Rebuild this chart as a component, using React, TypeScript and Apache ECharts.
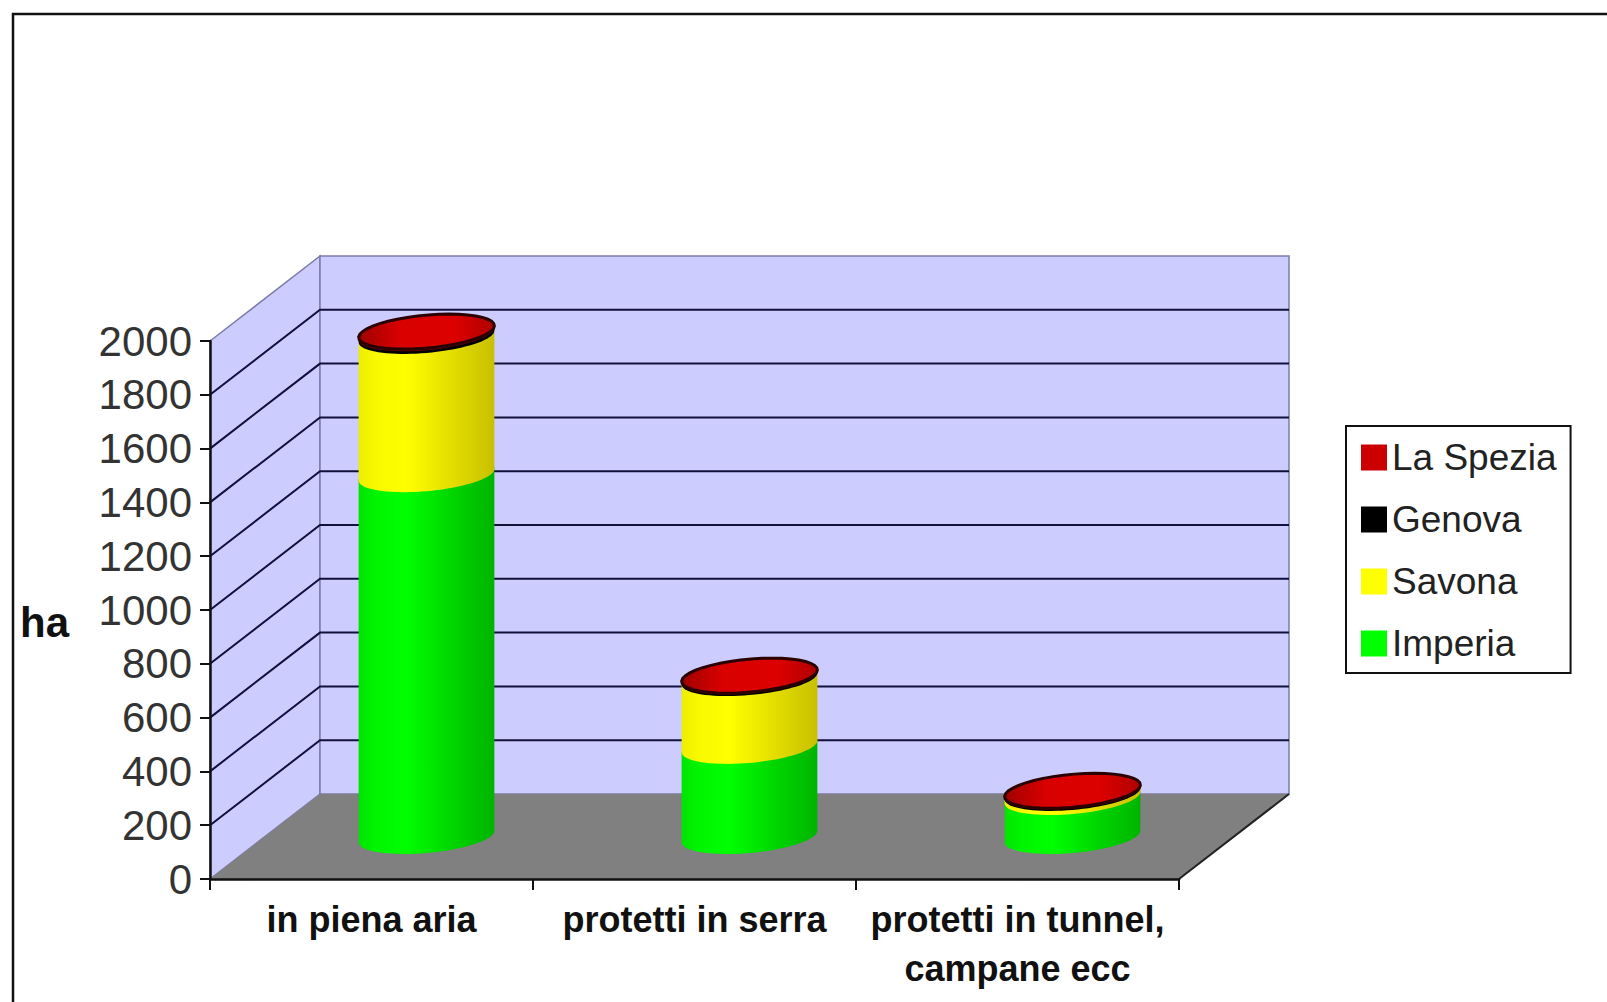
import React, { useEffect, useRef } from "react";
import * as echarts from "echarts";

const categories = ["in piena aria", "protetti in serra", "protetti in tunnel,\ncampane ecc"];
const imperia = [1345, 335, 145];
const savona = [514, 252, 15];
const genova = [10, 6, 5];
const laSpezia = [8, 5, 5];
const yTicks = [200, 400, 600, 800, 1000, 1200, 1400, 1600, 1800];
const legendOrder = ["La Spezia", "Genova", "Savona", "Imperia"];

const DEPTH_X = 110;
const DEPTH_Y = -85;
const RX = 64;
const SKEW = 22.6;
const RY = 17.5;
const FONT = "'Liberation Sans', Arial, sans-serif";

const gradient = (stops: [number, string][]) =>
  new echarts.graphic.LinearGradient(0, 0, 1, 0, stops.map(([offset, color]) => ({ offset, color })));

const shades: Record<string, [number, string][]> = {
  Imperia: [[0, "#00e400"], [0.12, "#00f400"], [0.35, "#00ff00"], [0.7, "#00d400"], [1, "#00b400"]],
  Savona: [[0, "#eeee00"], [0.12, "#f8f800"], [0.35, "#ffff00"], [0.7, "#e2dc00"], [1, "#c8c000"]],
  Genova: [[0, "#000000"], [1, "#000000"]],
  "La Spezia": [[0, "#700000"], [1, "#500000"]],
};

const ellipsePoint = (cx: number, cy: number, t: number): number[] => [
  cx + RX * Math.cos(t) + SKEW * Math.sin(t),
  cy - RY * Math.sin(t),
];

const leftT = Math.PI + Math.atan2(SKEW, RX);
const rightT = Math.atan2(SKEW, RX);

function arc(cx: number, cy: number, from: number, to: number): number[][] {
  const pts: number[][] = [];
  const n = 40;
  for (let i = 0; i <= n; i++) pts.push(ellipsePoint(cx, cy, from + ((to - from) * i) / n));
  return pts;
}

function makeCylinderItem(name: string, isTop: boolean) {
  return (_params: any, api: any) => {
    const bottom = api.coord([api.value(0), api.value(1)]);
    const top = api.coord([api.value(0), api.value(2)]);
    const cx = bottom[0] + DEPTH_X / 2;
    const by = bottom[1] + DEPTH_Y / 2;
    const ty = top[1] + DEPTH_Y / 2;
    const front = arc(cx, by, leftT, rightT + Math.PI * 2);
    const back = arc(cx, ty, rightT, leftT);
    const children: any[] = [
      {
        type: "polygon",
        shape: { points: [...front, ...back] },
        style: { fill: gradient(shades[name]) },
      },
    ];
    if (isTop) {
      children.push({
        type: "polygon",
        shape: { points: arc(cx, ty, 0, Math.PI * 2) },
        style: {
          fill: gradient([[0, "#a00000"], [0.3, "#d80000"], [0.7, "#dd0000"], [1, "#b00000"]]),
          stroke: "#2a0000",
          lineWidth: 3,
        },
      });
    }
    return { type: "group", children };
  };
}

function makeSeries(name: string, color: string, base: number[], values: number[], isTop: boolean) {
  return {
    type: "custom",
    name,
    z: 3,
    itemStyle: { color },
    renderItem: makeCylinderItem(name, isTop),
    data: values.map((v, i) => [i, base[i], base[i] + v]),
  };
}

const renderWalls = (params: any, api: any) => {
  const cs = params.coordSys;
  const y0 = api.coord([0, 0])[1];
  const yTop = api.coord([0, 2000])[1];
  const xL = cs.x;
  const xR = cs.x + cs.width;
  const shift = (p: number[]) => [p[0] + DEPTH_X, p[1] + DEPTH_Y];
  const wallFill = "#ccccff";
  const edge = "#7c7ca8";
  const children: any[] = [
    {
      type: "polygon",
      shape: { points: [[xL, y0], shift([xL, y0]), shift([xL, yTop]), [xL, yTop]] },
      style: { fill: wallFill, stroke: edge, lineWidth: 1.5 },
    },
    {
      type: "polygon",
      shape: { points: [shift([xL, y0]), shift([xR, y0]), shift([xR, yTop]), shift([xL, yTop])] },
      style: { fill: wallFill, stroke: edge, lineWidth: 1.5 },
    },
  ];
  yTicks.forEach((t) => {
    const y = api.coord([0, t])[1];
    children.push({
      type: "polyline",
      shape: { points: [[xL, y], shift([xL, y]), shift([xR, y])] },
      style: { fill: "none", stroke: "#10103a", lineWidth: 2 },
    });
  });
  children.push({
    type: "polygon",
    shape: { points: [[xL, y0], shift([xL, y0]), shift([xR, y0]), [xR, y0]] },
    style: { fill: "#808080" },
  });
  children.push({
    type: "line",
    shape: { x1: xR, y1: y0, x2: xR + DEPTH_X, y2: y0 + DEPTH_Y },
    style: { stroke: "#222222", lineWidth: 2 },
  });
  return { type: "group", children };
};

export default function App() {
  const ref = useRef<HTMLDivElement>(null);
  useEffect(() => {
    if (!ref.current) return;
    const chart = echarts.init(ref.current, undefined, { renderer: "svg" });
    const zeros = categories.map(() => 0);
    const s1 = imperia;
    const s2 = imperia.map((v, i) => v + savona[i]);
    const s3 = s2.map((v, i) => v + genova[i]);
    chart.setOption({
      animation: false,
      backgroundColor: "#ffffff",
      textStyle: { fontFamily: FONT },
      grid: { left: 210, top: 341, width: 969, height: 538, outerBoundsMode: "none" },
      legend: {
        orient: "vertical",
        left: 1346,
        top: 426,
        padding: [13, 14, 11, 15],
        itemWidth: 26,
        itemHeight: 26,
        itemGap: 25,
        icon: "rect",
        borderColor: "#111111",
        borderWidth: 2,
        backgroundColor: "#ffffff",
        data: legendOrder,
        textStyle: { fontFamily: FONT, fontSize: 37, color: "#222222" },
      },
      graphic: [
        {
          type: "polyline",
          shape: { points: [[13, 1002], [13, 14], [1607, 14]] },
          style: { fill: "none", stroke: "#111111", lineWidth: 2.5 },
        },
        {
          type: "text",
          x: 20,
          y: 622,
          style: {
            text: "ha",
            fontFamily: FONT,
            fontSize: 42,
            fontWeight: "bold",
            fill: "#111111",
            verticalAlign: "middle",
          },
        },
      ],
      xAxis: {
        type: "category",
        data: categories,
        z: 5,
        axisLine: { lineStyle: { color: "#111111", width: 2.5 } },
        axisTick: { show: true, length: 11, lineStyle: { color: "#111111", width: 2 } },
        axisLabel: {
          interval: 0,
          margin: 16,
          fontFamily: FONT,
          fontSize: 36,
          fontWeight: "bold",
          lineHeight: 49,
          color: "#111111",
        },
      },
      yAxis: {
        type: "value",
        min: 0,
        max: 2000,
        interval: 200,
        z: 5,
        splitLine: { show: false },
        axisLine: { show: true, lineStyle: { color: "#111111", width: 2.5 } },
        axisTick: { show: true, length: 10, lineStyle: { color: "#111111", width: 2 } },
        axisLabel: {
          margin: 18,
          fontFamily: FONT,
          fontSize: 42,
          color: "#333333",
          formatter: (v: number) => String(v),
        },
      },
      series: [
        { type: "custom", name: "walls", z: 1, silent: true, renderItem: renderWalls, data: [[0]] },
        makeSeries("Imperia", "#00ff00", zeros, imperia, false),
        makeSeries("Savona", "#ffff00", s1, savona, false),
        makeSeries("Genova", "#000000", s2, genova, false),
        makeSeries("La Spezia", "#cc0000", s3, laSpezia, true),
      ],
    });
    return () => chart.dispose();
  }, []);
  return <div ref={ref} style={{ position: "absolute", left: 0, top: 0, width: 1607, height: 1002 }} />;
}
